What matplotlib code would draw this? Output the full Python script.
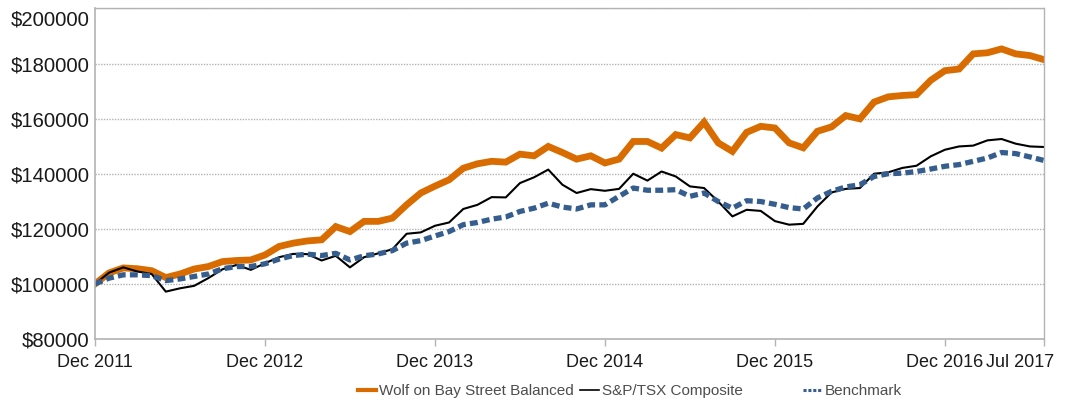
import numpy as np
import matplotlib
matplotlib.use("Agg")
import matplotlib.pyplot as plt
import matplotlib.transforms as mtransforms
from matplotlib.lines import Line2D

plt.rcParams["font.family"] = ["Liberation Sans", "DejaVu Sans"]

# monthly values, Dec 2011 .. Jul 2017 (68 months)
wolf = [100000, 104000, 105800, 105500, 104800, 102300, 103600, 105400, 106300, 108100, 108500, 108700,
        110500, 113600, 114800, 115600, 116000, 120800, 119000, 122700, 122700, 123900, 128700, 133000,
        135500, 137800, 142000, 143600, 144500, 144200, 147100, 146500, 149900, 147700, 145300, 146500,
        143900, 145300, 151700, 151700, 149300, 154200, 153000, 158700, 151200, 148100, 155000, 157200,
        156600, 151200, 149400, 155400, 157000, 161100, 159900, 166000, 167900, 168400, 168700, 173900,
        177400, 178000, 183500, 183900, 185300, 183500, 182900, 181400]
tsx = [100000, 104100, 106000, 104500, 103600, 97200, 98400, 99300, 102100, 105300, 106900, 105100,
       107500, 109700, 110900, 110800, 108500, 110200, 106000, 109700, 111100, 112600, 118200, 118700,
       121100, 122300, 127200, 128700, 131500, 131400, 136600, 138700, 141500, 136000, 133000, 134400,
       133800, 134500, 140000, 137500, 140800, 139000, 135400, 134800, 129900, 124500, 126900, 126500,
       122800, 121500, 121800, 128100, 133200, 134500, 134800, 140000, 140500, 142100, 142900, 146300,
       148700, 149900, 150200, 152100, 152600, 150900, 149900, 149700]
bench = [100000, 102100, 103300, 103300, 103000, 101200, 101800, 102700, 103600, 105500, 106300, 106300,
         107300, 109000, 110300, 110800, 110300, 111100, 108700, 110200, 110900, 112100, 114800, 115700,
         117400, 119000, 121500, 122300, 123500, 124300, 126300, 127500, 129300, 127900, 127200, 128700,
         128700, 131800, 134800, 134000, 134000, 134200, 131800, 133000, 129900, 127500, 130200, 129900,
         128900, 127700, 127200, 131200, 133600, 135200, 136000, 139000, 140000, 140200, 140800, 141700,
         142700, 143300, 144500, 145700, 147700, 147300, 146100, 144800]

tick_pos = [0, 12, 24, 36, 48, 60, 67]
tick_lab = ["Dec 2011", "Dec 2012", "Dec 2013", "Dec 2014", "Dec 2015", "Dec 2016", "Jul 2017"]
y_ticks = [80000, 100000, 120000, 140000, 160000, 180000, 200000]

orange = "#d96c00"
blue = "#355e8e"
grey = "#b3b3b3"

fig = plt.figure(figsize=(10.66, 4.01), dpi=100)
ax = fig.add_axes([0.0891, 0.1546, 0.8903, 0.8244])

months = np.arange(len(wolf))
ax.plot(months, wolf, color=orange, lw=4.9, solid_joinstyle="miter")
ax.plot(months, tsx, color="black", lw=1.5)
ax.plot(months, bench, color=blue, lw=3.8, linestyle=(0, (1.5, 0.8)))

ax.set_xlim(0, 67)
ax.set_ylim(80000, 200000)
ax.set_xticks(tick_pos)
ax.set_xticklabels(tick_lab)
ax.set_yticks(y_ticks)
ax.set_yticklabels(["$" + str(v) for v in y_ticks])

ax.tick_params(axis="both", labelcolor="#1a1a1a")
ax.tick_params(axis="x", labelsize=13, length=5, width=1, color=grey, pad=5.5)
ax.tick_params(axis="y", labelsize=14.6, length=0, pad=4)

ax.grid(axis="y", color=grey, linestyle=(0, (1, 1)), lw=1)
for s in ["left", "bottom"]:
    ax.spines[s].set_color(grey)
    ax.spines[s].set_linewidth(1.2)
for s in ["top", "right"]:
    ax.spines[s].set_color(grey)
    ax.spines[s].set_linestyle((0, (1, 1)))
    ax.spines[s].set_linewidth(1)

# nudge the edge labels inside the picture
lab = ax.get_xticklabels()[-1]
lab.set_transform(lab.get_transform() + mtransforms.ScaledTranslation(-0.24, 0, fig.dpi_scale_trans))
lab = ax.get_yticklabels()[-1]
lab.set_transform(lab.get_transform() + mtransforms.ScaledTranslation(0, -0.1, fig.dpi_scale_trans))

h1 = Line2D([], [], color=orange, lw=3)
h2 = Line2D([], [], color="black", lw=1.2)
h3 = Line2D([], [], color=blue, lw=2.2, linestyle=(0, (1, 0.6)))

leg_kw = dict(frameon=False, fontsize=11, labelcolor="#4d4d4d", handlelength=1.2,
              handletextpad=0.2, borderpad=0, borderaxespad=0, columnspacing=0.4,
              loc="center left")
fig.legend([h1, h2], ["Wolf on Bay Street Balanced", "S&P/TSX Composite"], ncol=2,
           bbox_to_anchor=(358 / 1066, 1 - 391 / 401), **leg_kw)
fig.legend([h3], ["Benchmark"], bbox_to_anchor=(803 / 1066, 1 - 391 / 401), **leg_kw)

fig.savefig("out.png", dpi=100)
